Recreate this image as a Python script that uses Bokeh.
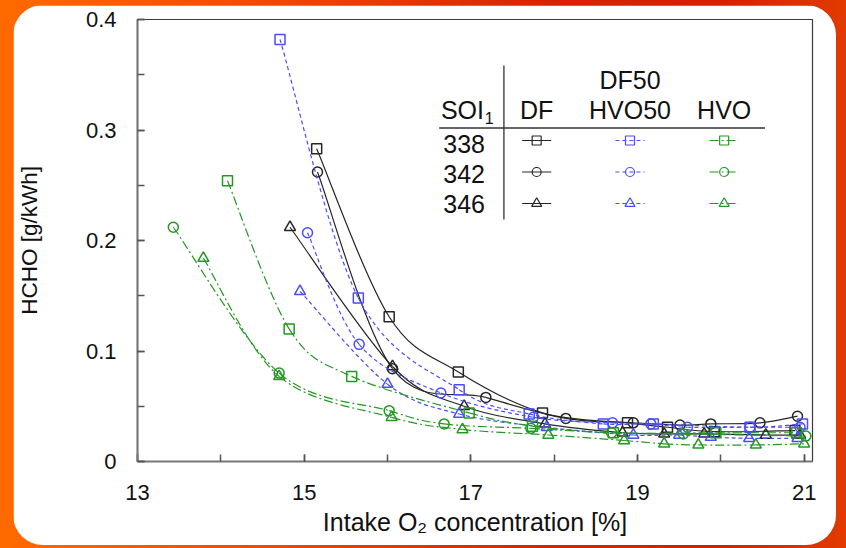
from bokeh.plotting import figure
from bokeh.models import ColumnDataSource, FixedTicker
from bokeh.layouts import column
from bokeh.core.properties import value
from bokeh.embed import file_html
from bokeh.resources import INLINE

# ---------------- data (intake O2 %, HCHO g/kWh) ----------------
df_338_x = [15.15, 16.02, 16.85, 17.86, 18.88, 19.36, 19.92, 20.89]
df_338_y = [0.283, 0.131, 0.081, 0.044, 0.035, 0.031, 0.027, 0.028]
df_342_x = [15.16, 16.06, 17.18, 18.14, 18.95, 19.51, 19.88, 20.47, 20.92]
df_342_y = [0.262, 0.084, 0.058, 0.039, 0.035, 0.033, 0.034, 0.035, 0.041]
df_346_x = [14.83, 16.06, 16.92, 17.89, 18.82, 19.32, 19.80, 20.54, 20.95]
df_346_y = [0.212, 0.086, 0.050, 0.034, 0.026, 0.025, 0.025, 0.024, 0.024]

hvo50_338_x = [14.71, 15.65, 16.86, 17.70, 18.59, 19.19, 20.35, 20.98]
hvo50_338_y = [0.382, 0.148, 0.065, 0.043, 0.034, 0.034, 0.031, 0.034]
hvo50_342_x = [15.04, 15.66, 16.64, 17.75, 18.70, 19.16, 19.60, 20.35, 20.95]
hvo50_342_y = [0.207, 0.106, 0.062, 0.040, 0.035, 0.034, 0.031, 0.031, 0.031]
hvo50_346_x = [14.95, 16.00, 16.86, 17.91, 18.95, 19.50, 19.88, 20.34, 20.92]
hvo50_346_y = [0.154, 0.070, 0.043, 0.031, 0.024, 0.024, 0.022, 0.021, 0.021]

hvo_338_x = [14.08, 14.82, 15.57, 16.98, 17.74, 18.71, 19.94, 20.91]
hvo_338_y = [0.254, 0.120, 0.077, 0.044, 0.032, 0.026, 0.026, 0.026]
hvo_342_x = [13.43, 14.70, 16.02, 16.68, 17.72, 18.69, 19.55, 21.02]
hvo_342_y = [0.212, 0.080, 0.046, 0.034, 0.030, 0.026, 0.025, 0.023]
hvo_346_x = [13.79, 14.70, 16.05, 16.90, 17.93, 18.84, 19.32, 19.73, 20.42, 21.00]
hvo_346_y = [0.184, 0.077, 0.040, 0.029, 0.024, 0.019, 0.016, 0.015, 0.015, 0.016]

soi_labels = ["338", "342", "346"]
fuel_headers = ["DF", "HVO50", "HVO"]
x_tick_labels = [13, 15, 17, 19, 21]
x_minor_ticks = [13, 14, 15, 16, 17, 18, 19, 20, 21]
y_tick_labels = [0, 0.1, 0.2, 0.3, 0.4]
y_minor_ticks = [0, 0.05, 0.1, 0.15, 0.2, 0.25, 0.3, 0.35, 0.4]

# ---------------- styles ----------------
FONT = "Liberation Sans"
fuel_style = {
    "DF": dict(color="#262626", dash="solid"),
    "HVO50": dict(color="#4b4bff", dash="4 3"),
    "HVO": dict(color="#229922", dash="9 3 2 3"),
}
markers = ["square", "circle", "triangle"]
msizes = [10, 10, 11]

series = [
    ("DF", 0, df_338_x, df_338_y), ("DF", 1, df_342_x, df_342_y), ("DF", 2, df_346_x, df_346_y),
    ("HVO50", 0, hvo50_338_x, hvo50_338_y), ("HVO50", 1, hvo50_342_x, hvo50_342_y), ("HVO50", 2, hvo50_346_x, hvo50_346_y),
    ("HVO", 0, hvo_338_x, hvo_338_y), ("HVO", 1, hvo_342_x, hvo_342_y), ("HVO", 2, hvo_346_x, hvo_346_y),
]

p = figure(width=823, height=540, x_range=(13, 21.1), y_range=(0, 0.4),
           output_backend="svg", toolbar_location=None,
           min_border_left=121, min_border_right=24, min_border_top=14, min_border_bottom=84)
p.styles = {"border-radius": "30px", "overflow": "hidden"}
p.background_fill_color = "white"
p.border_fill_color = "white"
p.xgrid.visible = False
p.ygrid.visible = False
p.outline_line_color = "#3a3a3a"
p.outline_line_width = 1.2


def smooth_segments(xs, ys):
    """Excel-style smoothed line: cubic Bezier control points through the data."""
    n = len(xs)
    out = dict(x0=[], y0=[], x1=[], y1=[], cx0=[], cy0=[], cx1=[], cy1=[])
    for i in range(n - 1):
        xp, yp = (xs[i - 1], ys[i - 1]) if i > 0 else (xs[i], ys[i])
        xn, yn = (xs[i + 2], ys[i + 2]) if i + 2 < n else (xs[i + 1], ys[i + 1])
        out["x0"].append(xs[i]); out["y0"].append(ys[i])
        out["x1"].append(xs[i + 1]); out["y1"].append(ys[i + 1])
        out["cx0"].append(xs[i] + (xs[i + 1] - xp) / 6)
        out["cy0"].append(ys[i] + (ys[i + 1] - yp) / 6)
        out["cx1"].append(xs[i + 1] - (xn - xs[i]) / 6)
        out["cy1"].append(ys[i + 1] - (yn - ys[i]) / 6)
    return out


for fuel, k, xs, ys in series:
    st = fuel_style[fuel]
    src = ColumnDataSource(smooth_segments(xs, ys))
    p.bezier(x0="x0", y0="y0", x1="x1", y1="y1", cx0="cx0", cy0="cy0", cx1="cx1", cy1="cy1",
             source=src, line_color=st["color"], line_width=1.2, line_dash=st["dash"])
    p.scatter(xs, ys, marker=markers[k], size=msizes[k], fill_color=None,
              line_color=st["color"], line_width=1.5)

# ---------------- legend table (layout in data units) ----------------
col_x = [17.79, 18.91, 20.04]
row_marker_y = [0.2905, 0.2620, 0.2335]
row_text_y = [0.2873, 0.2602, 0.2330]
half = 0.175
LFS = value("25px")

p.segment(x0=[17.397], y0=[0.219], x1=[17.397], y1=[0.3584], line_color="#333333", line_width=1.3)
p.segment(x0=[16.62], y0=[0.3018], x1=[20.53], y1=[0.3018], line_color="#333333", line_width=1.3)

p.text(x=[17.158], y=[0.3181], text=["SOI"], text_align="right", text_baseline="middle",
       text_font=value(FONT), text_font_size=LFS, text_color="#111111")
p.text(x=[17.168], y=[0.3112], text=["1"], text_align="left", text_baseline="middle",
       text_font=value(FONT), text_font_size=value("16px"), text_color="#111111")
p.text(x=col_x, y=[0.3181] * 3, text=fuel_headers, text_align="center", text_baseline="middle",
       text_font=value(FONT), text_font_size=LFS, text_color="#111111")
p.text(x=[col_x[1]], y=[0.3448], text=["DF50"], text_align="center", text_baseline="middle",
       text_font=value(FONT), text_font_size=LFS, text_color="#111111")
p.text(x=[16.92] * 3, y=row_text_y, text=soi_labels, text_align="center", text_baseline="middle",
       text_font=value(FONT), text_font_size=LFS, text_color="#111111")

for j, fuel in enumerate(fuel_headers):
    st = fuel_style[fuel]
    for k in range(3):
        p.segment(x0=[col_x[j] - half], y0=[row_marker_y[k]], x1=[col_x[j] + half], y1=[row_marker_y[k]],
                  line_color=st["color"], line_width=1.2, line_dash=st["dash"])
        p.scatter([col_x[j]], [row_marker_y[k]], marker=markers[k], size=msizes[k] - 1,
                  fill_color=None, line_color=st["color"], line_width=1.2)

# ---------------- axes ----------------
p.xaxis.ticker = FixedTicker(ticks=x_tick_labels, minor_ticks=x_minor_ticks)
p.yaxis.ticker = FixedTicker(ticks=y_tick_labels, minor_ticks=y_minor_ticks)
p.yaxis.major_label_overrides = {0: "0", 0.1: "0.1", 0.2: "0.2", 0.3: "0.3", 0.4: "0.4"}
for ax in (p.xaxis[0], p.yaxis[0]):
    ax.axis_line_color = "#777777"
    ax.axis_line_width = 2
    ax.major_tick_in = 7
    ax.major_tick_out = 0
    ax.minor_tick_in = 7
    ax.minor_tick_out = 0
    ax.major_tick_line_color = "#555555"
    ax.minor_tick_line_color = "#555555"
    ax.major_tick_line_width = 1.5
    ax.minor_tick_line_width = 1.5
    ax.major_label_text_font = FONT
    ax.major_label_text_font_size = "22px"
    ax.major_label_text_color = "#111111"
    ax.axis_label_text_font = FONT
    ax.axis_label_text_font_style = "normal"
    ax.axis_label_text_color = "#111111"

p.yaxis.major_label_standoff = 21
p.xaxis.major_label_standoff = 23
p.yaxis.axis_label = "HCHO [g/kWh]"
p.xaxis.axis_label = "Intake O\u2082 concentration [%]"
p.yaxis.axis_label_text_font_size = "22.5px"
p.xaxis.axis_label_text_font_size = "25px"
p.yaxis.axis_label_standoff = 41
p.xaxis.axis_label_standoff = 5

layout = column(p, width=846, height=548,
                styles={"background": "linear-gradient(90deg, #ff6a00 0%, #f24a00 30%, #d82200 65%, #d42000 85%, #e23a00 100%)",
                        "padding": "5px 10px 3px 13px"})

open("out.html", "w").write(file_html(layout, INLINE))
